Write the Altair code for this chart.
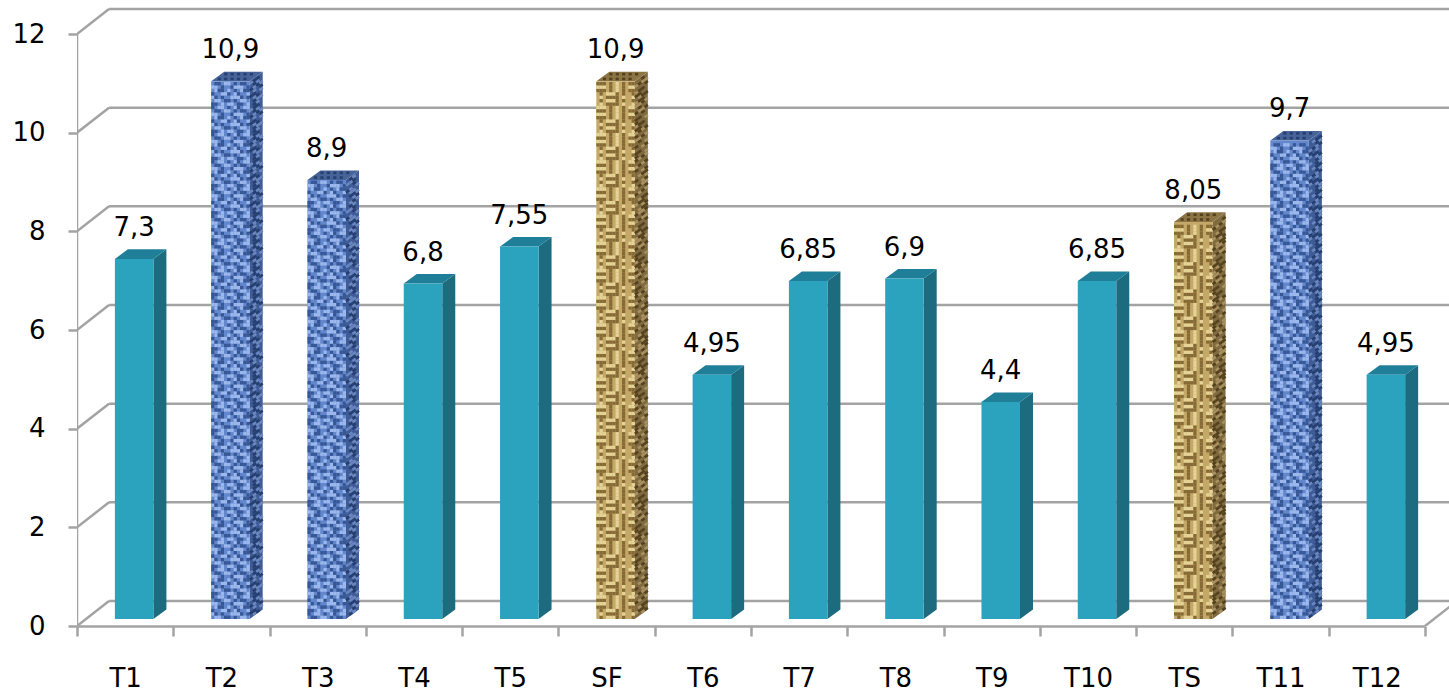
import altair as alt
import pandas as pd

# Series shown by the chart
categories = ["T1", "T2", "T3", "T4", "T5", "SF", "T6", "T7", "T8", "T9", "T10", "TS", "T11", "T12"]
values = [7.3, 10.9, 8.9, 6.8, 7.55, 10.9, 4.95, 6.85, 6.9, 4.4, 6.85, 8.05, 9.7, 4.95]
finish = ["plain", "cloth", "cloth", "plain", "plain", "burlap", "plain", "plain", "plain", "plain", "plain", "burlap", "cloth", "plain"]
y_ticks = [0, 2, 4, 6, 8, 10, 12]

GRAY = "#a3a3a3"
FONT = "DejaVu Sans"
FONT_SIZE = 26

# Oblique projection, expressed in scale units
X_MAX = 14.249
Y_MAX = 12.69
WALL_DX, WALL_DY = 0.3323, 0.5068     # depth of the chart box
BAR_DX, BAR_DY = 0.135, 0.193         # depth of a column
BAR_SHIFT_X, BAR_SHIFT_Y = 0.0935, 0.142
BAR_HALF = 0.2

x_scale = alt.Scale(domain=[0, X_MAX], nice=False, zero=False)
y_scale = alt.Scale(domain=[0, Y_MAX], nice=False, zero=False)

X = lambda f="x": alt.X(f"{f}:Q", scale=x_scale, axis=None)
Y = lambda f="y": alt.Y(f"{f}:Q", scale=y_scale, axis=None)

palette = {
    "plain": ("#2ba3bf", "#1c6b7e", "#207f98"),
    "cloth": ("#6387cc", "#3f5c96", "#466499"),
    "burlap": ("#c4a868", "#806a40", "#8d7444"),
}
# Shades laid over the base colour of the textured columns: (dark, light, side dark, side light)
thread = {
    "cloth": ("#365694", "#9cb8ec", "#273f70", "#6a87c0"),
    "burlap": ("#866a36", "#e6d397", "#54421f", "#a89060"),
}
# Repeating weave tiles: d = dark thread, l = light thread, . = base colour
tiles = {
    "cloth": [
        "d.ll.d.l",
        ".dd.ll.d",
        "ll.d..dl",
        ".ldd.l.d",
        "d..lld.l",
        "ld.d..ll",
        ".ll.dd.d",
        "dd.l.ll.",
    ],
    "burlap": [
        "lll.d.l.d.",
        "ddd.d.l.d.",
        "lll.d.l.d.",
        "ddd.d.l.d.",
        ".d.llld.d.",
        ".l.dddd.l.",
        ".d.llld.d.",
        ".l.dddd.l.",
    ],
}
CELL_X = 0.4 / 12
CELL_Y = 0.0689

bars = []
for i, (name, v, kind) in enumerate(zip(categories, values, finish)):
    left = i + 0.5 + BAR_SHIFT_X - BAR_HALF
    right = left + 2 * BAR_HALF
    bottom = BAR_SHIFT_Y
    top = v + BAR_SHIFT_Y
    bars.append(dict(name=name, v=v, kind=kind, left=left, right=right, bottom=bottom, top=top,
                     label=f"{v:g}".replace(".", ","), centre=(left + right) / 2))
bars_df = pd.DataFrame(bars)
bars_df["front"] = bars_df["kind"].map(lambda k: palette[k][0])

# Parallelogram faces of each column
side_rows, top_rows = [], []
for b in bars:
    side_colour = palette[b["kind"]][1]
    top_colour = palette[b["kind"]][2]
    side_rows.append(dict(name=b["name"], x=b["right"], y=b["bottom"], y2=b["top"], c=side_colour))
    side_rows.append(dict(name=b["name"], x=b["right"] + BAR_DX, y=b["bottom"] + BAR_DY, y2=b["top"] + BAR_DY, c=side_colour))
    upper = b["top"] + BAR_DY
    top_rows.append(dict(name=b["name"], x=b["left"], y=b["top"], y2=b["top"], c=top_colour))
    top_rows.append(dict(name=b["name"], x=b["left"] + BAR_DX, y=b["top"], y2=upper, c=top_colour))
    top_rows.append(dict(name=b["name"], x=b["right"], y=b["top"], y2=upper, c=top_colour))
    top_rows.append(dict(name=b["name"], x=b["right"] + BAR_DX, y=upper, y2=upper, c=top_colour))
side_df = pd.DataFrame(side_rows)
top_df = pd.DataFrame(top_rows)

# Weave threads on the textured columns
front_cells, side_threads = [], []
for b in bars:
    if b["kind"] == "plain":
        continue
    tile = tiles[b["kind"]]
    dark, light, side_dark, side_light = thread[b["kind"]]
    rows = int((b["top"] - b["bottom"]) / CELL_Y)
    for r in range(rows):
        row = tile[(rows - r) % len(tile)]
        y0 = b["bottom"] + r * CELL_Y
        for col in range(12):
            ch = row[col % len(row)]
            if ch != ".":
                front_cells.append(dict(x=b["left"] + col * CELL_X, x2=b["left"] + (col + 1) * CELL_X,
                                        y=y0, y2=y0 + CELL_Y, c=dark if ch == "d" else light))
        for col in range(4):
            ch = row[(col * 2 + r) % len(row)]
            if ch != ".":
                f0, f1 = col / 4, (col + 1) / 4
                side_threads.append(dict(x=b["right"] + f0 * BAR_DX, x2=b["right"] + f1 * BAR_DX,
                                         y=y0 + CELL_Y / 2 + f0 * BAR_DY, y2=y0 + CELL_Y / 2 + f1 * BAR_DY,
                                         c=side_dark if ch == "d" else side_light))
    # a few threads across the top face
    for col in range(1, 11, 2):
        for step in range(2):
            f = (step + 0.5) / 2
            xa = b["left"] + col * CELL_X + f * BAR_DX
            side_threads.append(dict(x=xa, x2=xa + CELL_X, y=b["top"] + f * BAR_DY, y2=b["top"] + f * BAR_DY,
                                     c=side_dark))
cells_df = pd.DataFrame(front_cells)
threads_df = pd.DataFrame(side_threads)

# Box lines: back wall, left wall, left edge, floor corner
grid_rows = []
for t in y_ticks:
    grid_rows.append(dict(x=WALL_DX, x2=14 + WALL_DX, y=t + WALL_DY, y2=t + WALL_DY))
    grid_rows.append(dict(x=0, x2=WALL_DX, y=t, y2=t + WALL_DY))
grid_rows.append(dict(x=0, x2=0, y=0, y2=y_ticks[-1]))
grid_rows.append(dict(x=14, x2=14 + WALL_DX, y=0, y2=WALL_DY))
grid_df = pd.DataFrame(grid_rows)

axes_layer = alt.Chart(pd.DataFrame({"name": categories, "tick": [0] * len(categories)})).mark_rule(opacity=0).encode(
    x=alt.X("name:N", sort=categories, title=None,
            scale=alt.Scale(domain=categories, range=[0, 1348], paddingInner=0, paddingOuter=0),
            axis=alt.Axis(labelAngle=0, tickBand="extent", domain=True, domainColor=GRAY, domainWidth=2.5,
                          tickColor=GRAY, tickWidth=2.5, tickSize=10, labelPadding=29, labelFont=FONT,
                          labelFontSize=FONT_SIZE, labelColor="#000000", grid=False)),
    y=alt.Y("tick:Q", scale=y_scale, title=None,
            axis=alt.Axis(values=y_ticks, domain=False, tickColor=GRAY, tickWidth=2.5, tickSize=9, labelPadding=23,
                          labelFont=FONT, labelFontSize=FONT_SIZE, labelColor="#000000", grid=False)),
)

grid_layer = alt.Chart(grid_df).mark_rule(color=GRAY, strokeWidth=2.5, clip=True).encode(
    x=X(), x2="x2:Q", y=Y(), y2="y2:Q")

side_layer = alt.Chart(side_df).mark_area().encode(
    x=X(), y=Y(), y2="y2:Q", detail="name:N", color=alt.Color("c:N", scale=None))

top_layer = alt.Chart(top_df).mark_area().encode(
    x=X(), y=Y(), y2="y2:Q", detail="name:N", color=alt.Color("c:N", scale=None))

front_layer = alt.Chart(bars_df).mark_rect().encode(
    x=X("left"), x2="right:Q", y=Y("bottom"), y2="top:Q", color=alt.Color("front:N", scale=None))

cells_layer = alt.Chart(cells_df).mark_rect().encode(
    x=X(), x2="x2:Q", y=Y(), y2="y2:Q", color=alt.Color("c:N", scale=None))

threads_layer = alt.Chart(threads_df).mark_rule(strokeWidth=2.6).encode(
    x=X(), x2="x2:Q", y=Y(), y2="y2:Q", color=alt.Color("c:N", scale=None))

labels_layer = alt.Chart(bars_df).mark_text(font=FONT, fontSize=FONT_SIZE, color="#000000", dy=-31, baseline="middle").encode(
    x=X("centre"), y=Y("top"), text="label:N")

chart = alt.layer(
    axes_layer, grid_layer, side_layer, top_layer, front_layer, cells_layer, threads_layer, labels_layer
).resolve_scale(x="independent", color="independent").resolve_axis(y="independent").properties(
    width=1372, height=626,
    padding={"left": 77, "top": 0, "right": 0, "bottom": 65},
    autosize=alt.AutoSizeParams(type="none"),
    background="#ffffff",
).configure_view(stroke=None)

chart.save("out.html", embed_options={"renderer": "svg", "actions": False})
